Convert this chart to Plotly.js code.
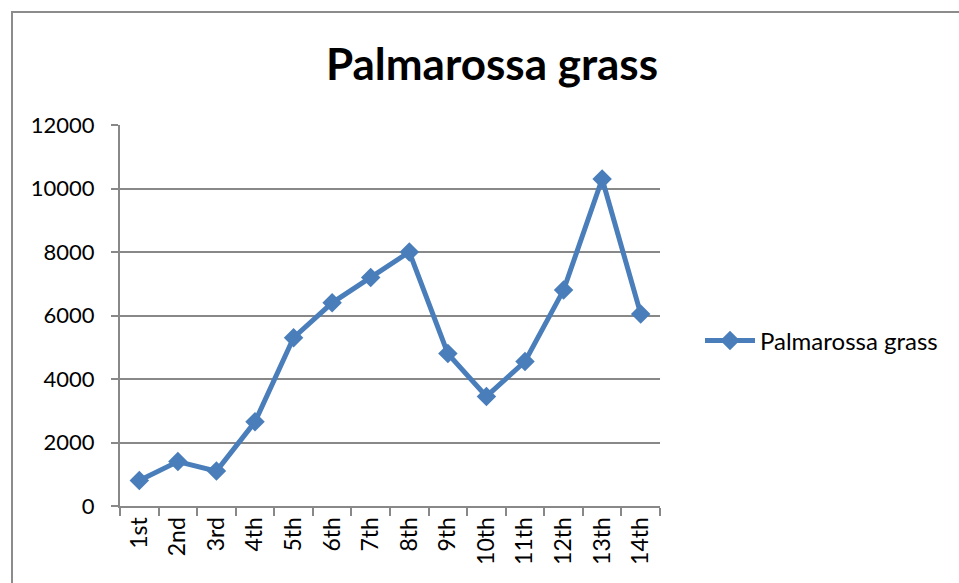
<!DOCTYPE html>
<html>
<head>
<meta charset="utf-8">
<script src="https://cdn.plot.ly/plotly-3.0.1.min.js"></script>
<style>html,body{margin:0;padding:0;background:#fff;}#chart{width:959px;height:583px;}</style>
</head>
<body>
<div id="chart"></div>
<script>
const categories = ["1st","2nd","3rd","4th","5th","6th","7th","8th","9th","10th","11th","12th","13th","14th"];
const values = [800, 1400, 1100, 2650, 5300, 6400, 7200, 8000, 4800, 3450, 4550, 6800, 10300, 6050];
const seriesName = "Palmarossa grass";
const chartTitle = "Palmarossa grass";
const yTicks = [0, 2000, 4000, 6000, 8000, 10000, 12000];

const trace = {
  x: categories, y: values, name: seriesName, type: 'scatter', mode: 'lines+markers',
  line: {color: '#4a7ebb', width: 5},
  marker: {symbol: 'diamond', size: 15, color: '#4a7ebb'}
};
const L = 120, R = 660, T = 125, B = 506, W = 959, H = 583;
const FONT = 'Lato, Open Sans, sans-serif';
const layout = {
  width: W, height: H,
  margin: {l: L, r: W - R, t: T, b: H - B, pad: 0},
  paper_bgcolor: '#fff', plot_bgcolor: '#fff',
  font: {family: FONT, color: '#000'},
  title: {text: '<b>' + chartTitle + '</b>', x: 492 / W, xanchor: 'center', y: 1 - 65 / H, yanchor: 'middle',
          font: {family: FONT, size: 44, color: '#000'}},
  showlegend: true,
  legend: {x: (700 - L) / (R - L), xanchor: 'left', y: (B - 341) / (B - T), yanchor: 'middle',
           itemwidth: 50,
           font: {size: 24, family: FONT, color: '#000'}, bgcolor: 'rgba(0,0,0,0)'},
  xaxis: {type: 'category', range: [-0.5, categories.length - 0.5], tickson: 'boundaries',
          showgrid: false, showline: true, linecolor: '#888', linewidth: 2,
          ticks: 'outside', ticklen: 8, tickcolor: '#888', tickwidth: 2, tickangle: -90,
          tickfont: {size: 23, family: FONT, color: '#000'}, fixedrange: true, zeroline: false},
  yaxis: {range: [0, 12000], tickvals: yTicks, ticktext: yTicks.map(String),
          showgrid: true, gridcolor: '#888', gridwidth: 2, showline: true, linecolor: '#888', linewidth: 2,
          ticks: 'outside', ticklen: 7, tickcolor: '#888', tickwidth: 2, zeroline: false,
          ticklabelstandoff: 12,
          tickfont: {size: 22, family: FONT, color: '#000'}, fixedrange: true},
  shapes: [{type: 'rect', xref: 'paper', yref: 'paper',
            x0: (12 - L) / (R - L), x1: (W + 20 - L) / (R - L),
            y0: (B - (H + 20)) / (B - T), y1: (B - 12) / (B - T),
            line: {color: '#8c8c8c', width: 2}, fillcolor: 'rgba(0,0,0,0)', layer: 'below'}]
};
Plotly.newPlot('chart', [trace], layout, {displayModeBar: false, staticPlot: true});
</script>
</body>
</html>
